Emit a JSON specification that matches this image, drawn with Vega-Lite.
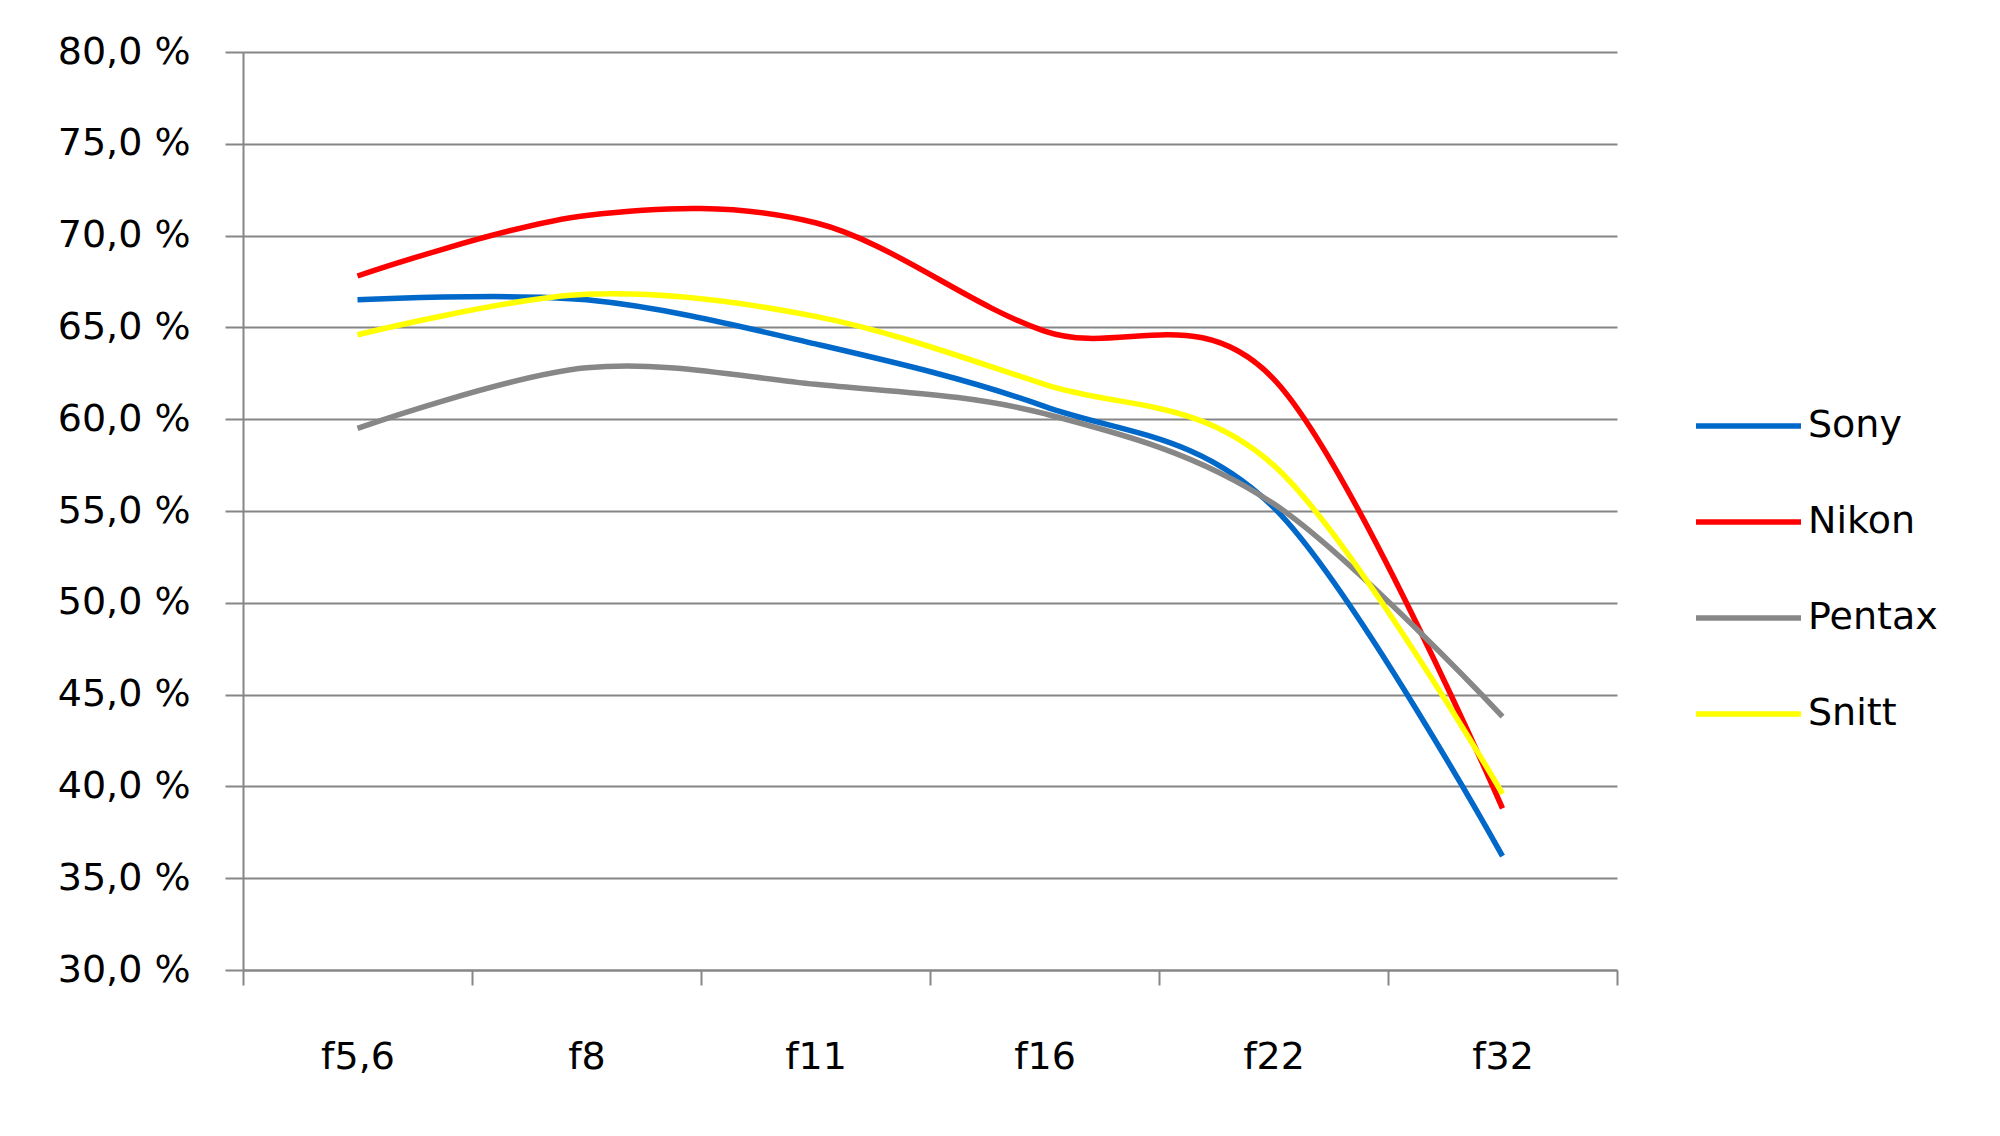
{
  "$schema": "https://vega.github.io/schema/vega-lite/v6.json",
  "width": 1374,
  "height": 918,
  "autosize": {"type": "none"},
  "padding": {"left": 243, "top": 52, "right": 383, "bottom": 166},
  "background": "white",
  "config": {"view": {"stroke": null}, "font": "DejaVu Sans"},
  "data": {
    "values": [
      {"aperture": "f5,6", "brand": "Sony", "value": 66.5},
      {"aperture": "f8", "brand": "Sony", "value": 66.5},
      {"aperture": "f11", "brand": "Sony", "value": 64.1},
      {"aperture": "f16", "brand": "Sony", "value": 60.7},
      {"aperture": "f22", "brand": "Sony", "value": 55.2},
      {"aperture": "f32", "brand": "Sony", "value": 36.2},
      {"aperture": "f5,6", "brand": "Nikon", "value": 67.8},
      {"aperture": "f8", "brand": "Nikon", "value": 71.1},
      {"aperture": "f11", "brand": "Nikon", "value": 70.7},
      {"aperture": "f16", "brand": "Nikon", "value": 64.8},
      {"aperture": "f22", "brand": "Nikon", "value": 62.2},
      {"aperture": "f32", "brand": "Nikon", "value": 38.8},
      {"aperture": "f5,6", "brand": "Pentax", "value": 59.5},
      {"aperture": "f8", "brand": "Pentax", "value": 62.8},
      {"aperture": "f11", "brand": "Pentax", "value": 61.9},
      {"aperture": "f16", "brand": "Pentax", "value": 60.3},
      {"aperture": "f22", "brand": "Pentax", "value": 55.4},
      {"aperture": "f32", "brand": "Pentax", "value": 43.8},
      {"aperture": "f5,6", "brand": "Snitt", "value": 64.6},
      {"aperture": "f8", "brand": "Snitt", "value": 66.8},
      {"aperture": "f11", "brand": "Snitt", "value": 65.6},
      {"aperture": "f16", "brand": "Snitt", "value": 61.9},
      {"aperture": "f22", "brand": "Snitt", "value": 57.5},
      {"aperture": "f32", "brand": "Snitt", "value": 39.6}
    ]
  },
  "mark": {"type": "line", "interpolate": "cardinal", "strokeWidth": 5.5},
  "encoding": {
    "x": {
      "field": "aperture",
      "type": "nominal",
      "sort": ["f5,6", "f8", "f11", "f16", "f22", "f32"],
      "bandPosition": 0.5,
      "scale": {"type": "band", "paddingInner": 0, "paddingOuter": 0},
      "axis": {
        "title": null,
        "labelAngle": 0,
        "tickBand": "extent",
        "grid": false,
        "domainColor": "#868686",
        "domainWidth": 2,
        "tickColor": "#868686",
        "tickWidth": 2,
        "tickSize": 15,
        "labelFontSize": 38,
        "labelPadding": 53,
        "labelColor": "black"
      }
    },
    "y": {
      "field": "value",
      "type": "quantitative",
      "scale": {"domain": [30, 80], "nice": false, "zero": false},
      "axis": {
        "title": null,
        "values": [30, 35, 40, 45, 50, 55, 60, 65, 70, 75, 80],
        "labelExpr": "replace(format(datum.value, '.1f'), '.', ',') + ' %'",
        "gridColor": "#868686",
        "gridWidth": 2,
        "tickSize": 18,
        "tickColor": "#868686",
        "tickWidth": 2,
        "domainColor": "#868686",
        "domainWidth": 2,
        "labelFontSize": 38,
        "labelPadding": 35,
        "labelColor": "black"
      }
    },
    "color": {
      "field": "brand",
      "type": "nominal",
      "sort": ["Sony", "Nikon", "Pentax", "Snitt"],
      "scale": {
        "domain": ["Sony", "Nikon", "Pentax", "Snitt"],
        "range": ["#0068C8", "#FF0000", "#878787", "#FFFF00"]
      },
      "legend": {
        "title": null,
        "orient": "none",
        "legendX": 1450,
        "legendY": 354,
        "symbolType": "stroke",
        "symbolSize": 11025,
        "symbolStrokeWidth": 5.5,
        "labelFontSize": 38,
        "labelOffset": 4,
        "rowPadding": 56,
        "clipHeight": 40,
        "labelColor": "black"
      }
    }
  }
}
